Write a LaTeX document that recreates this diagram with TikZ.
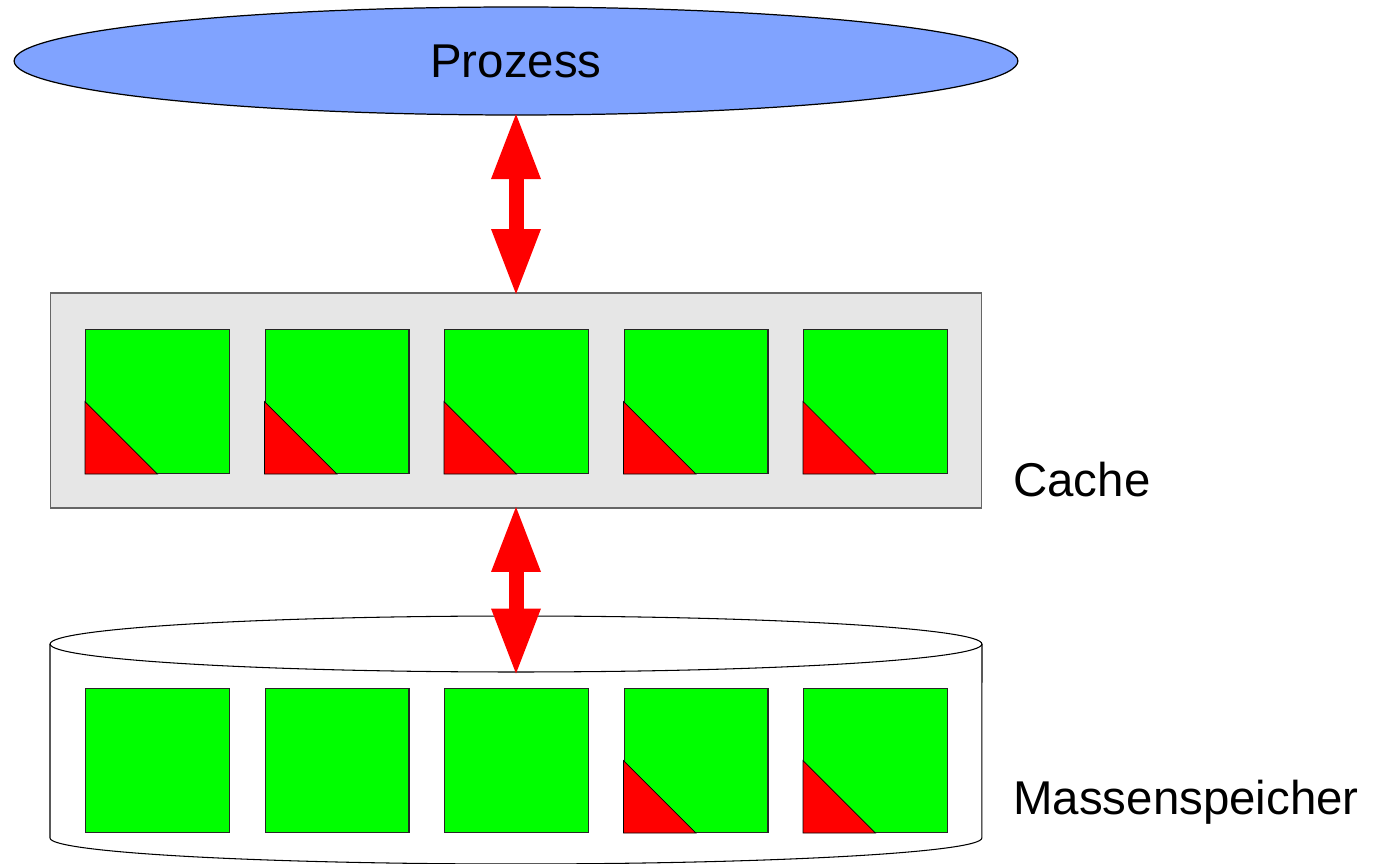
\documentclass[tikz,border=0pt]{standalone}
\usepackage{fontspec}
\setmainfont{Liberation Sans}
\usetikzlibrary{shapes.geometric,arrows.meta}
\definecolor{prozessblau}{RGB}{128,163,255}
\definecolor{blockgruen}{RGB}{0,255,0}
\definecolor{cachegrau}{RGB}{230,230,230}
\tikzset{
  kachel/.style={draw=black!85, fill=blockgruen, line width=0.6pt,
    minimum size=2.88cm, inner sep=0pt, anchor=north west},
  dirty/.style={draw=black, fill=red, line width=0.4pt},
  transfer/.style={red, line width=0.3cm, shorten <=-0.09cm, shorten >=-0.09cm,
    {Triangle[length=1.36cm,width=0.9cm]}-{Triangle[length=1.36cm,width=0.9cm]}},
  ebene/.style={anchor=west, inner sep=0pt, font=\fontsize{27}{32}\selectfont}
}
\begin{document}
\begin{tikzpicture}[x=0.02cm, y=-0.02cm]
  \useasboundingbox (0,0) rectangle (1380,864);
  \node[ellipse, draw, line width=0.7pt, fill=prozessblau, minimum width=20.08cm,
    minimum height=2.16cm, inner sep=0pt, font=\fontsize{27}{32}\selectfont]
    (prozess) at (516,61) {Prozess};
  \node[draw=black!60, line width=0.6pt, fill=cachegrau, minimum width=18.64cm,
    minimum height=4.3cm, inner sep=0pt] (cache) at (516,400.5) {};
  % Massenspeicher als Zylinder
  \draw[line width=0.6pt] (50,644) -- (50,838)
    arc[start angle=180, end angle=360, x radius=9.32cm, y radius=0.52cm] -- (982,644);
  \draw[line width=0.6pt] (516,644) ellipse [x radius=9.32cm, y radius=0.56cm];
  \coordinate (speicher) at (516,672);
  \foreach \i in {0,...,4} {
    \node[kachel] (c\i) at (85+179.5*\i,329) {};
    \node[kachel] (m\i) at (85+179.5*\i,688) {};
  }
  \foreach \k in {c0,c1,c2,c3,c4,m3,m4}
    \draw[dirty] (\k.south west) -- (\k.west) -- (\k.south) -- cycle;
  \draw[transfer] (prozess) -- (cache);
  \draw[transfer] (cache) -- (speicher);
  \node[ebene] (cachetext) at (1013,480) {Cache};
  \node[ebene] (speichertext) at (1013,802) {Massenspeicher};
\end{tikzpicture}
\end{document}
